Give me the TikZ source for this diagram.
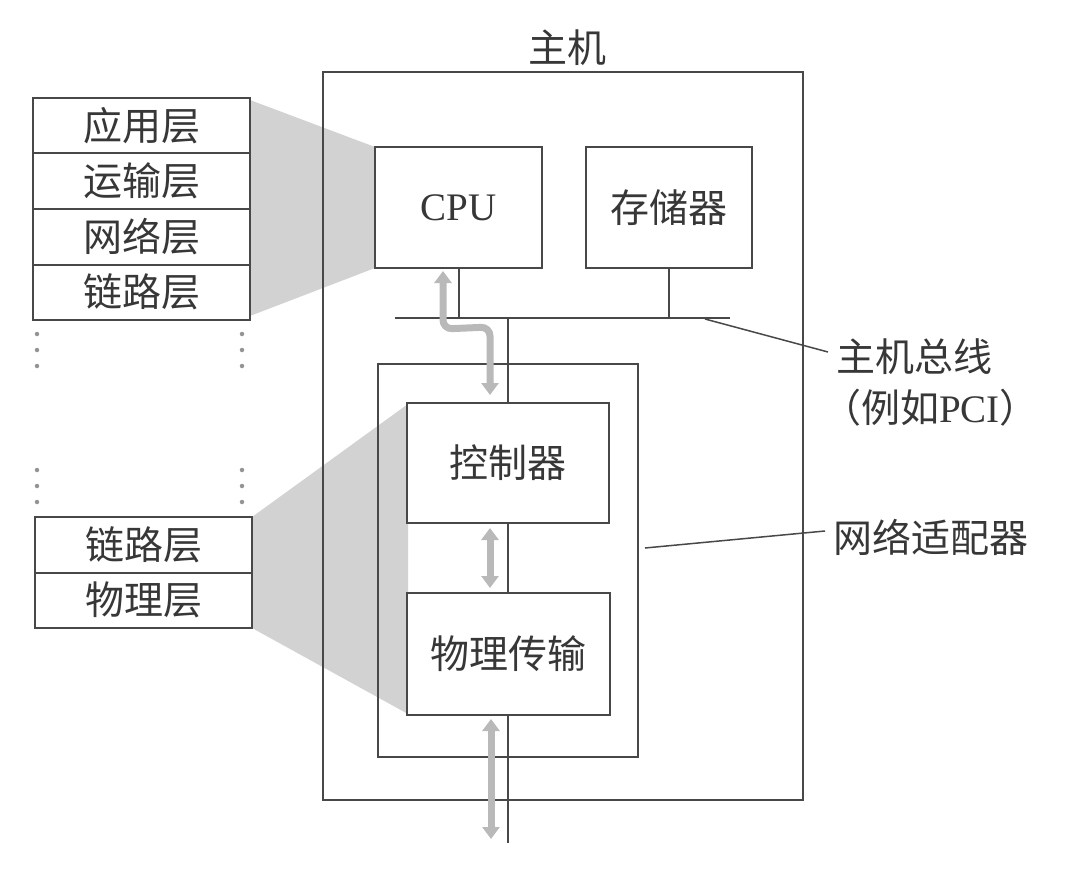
\documentclass[tikz,border=0pt]{standalone}
\usepackage{fontspec}
\setmainfont{Liberation Serif}
\newfontfamily\cjk{Noto Sans CJK SC}
\usetikzlibrary{arrows.meta,calc}
\definecolor{linec}{RGB}{72,72,72}
\definecolor{textc}{RGB}{55,55,55}
\definecolor{projc}{RGB}{210,210,210}
\definecolor{arrc}{RGB}{185,185,185}
\begin{document}
\begin{tikzpicture}[x=1pt,y=-1pt,
  lbl/.style={text=textc, font=\cjk\fontsize{39}{46}\selectfont, inner sep=0pt},
  box/.style={draw=linec, line width=2pt, fill=white, inner sep=0pt, text=textc,
              font=\cjk\fontsize{39}{46}\selectfont},
  frame/.style={draw=linec, line width=2pt, inner sep=0pt},
  layer/.style={box, minimum width=217pt, minimum height=55.5pt},
  wire/.style={draw=linec, line width=2pt},
  leader/.style={draw=linec, line width=1.5pt},
  dot/.style={fill=arrc!80!black, draw=none, circle, inner sep=0pt, minimum size=4.5pt},
  garrow/.style={draw=arrc, line width=7pt, {Triangle[width=17pt,length=12pt]}-{Triangle[width=17pt,length=12pt]}}
]
\useasboundingbox (0,0) rectangle (1082,880);

% projections (drawn first)
\fill[projc] (250,100) -- (375,147) -- (375,268) -- (250,316) -- cycle;
\fill[projc] (252,517) -- (408,404) -- (408,714) -- (252,628) -- cycle;

% host and adapter frames
\node[frame, minimum width=480pt, minimum height=728pt] (host) at (563,436) {};
\node[lbl, anchor=south] (hostl) at (567,66) {主机};
\node[frame, minimum width=260pt, minimum height=393pt] (adapter) at (508,560.5) {};

% inner boxes
\node[box, minimum width=167pt, minimum height=121pt, font=\fontsize{39}{46}\selectfont] (cpu) at (458.5,207.5) {\raisebox{-5pt}{CPU}};
\node[box, minimum width=166pt, minimum height=121pt] (mem) at (669,207.5) {\raisebox{-3pt}{存储器}};
\node[box, minimum width=202pt, minimum height=120pt] (ctrl) at (508,463) {\raisebox{-3pt}{控制器}};
\node[box, minimum width=203pt, minimum height=122pt] (phys) at (508,654) {\raisebox{-3pt}{物理传输}};

% bus
\coordinate (busL) at (395,318);
\coordinate (busR) at (730,318);
\draw[wire] (busL) -- (busR);
\draw[wire] (cpu.south) -- (cpu.south |- busL);
\draw[wire] (mem.south) -- (mem.south |- busL);
\draw[wire] (ctrl.north |- busL) -- (ctrl.north);
\draw[wire] (ctrl.south) -- (phys.north);
\coordinate (bot) at (508,843);
\draw[wire] (phys.south) -- (bot);

% gray arrows
\draw[garrow, rounded corners=9pt] ($(ctrl.north)+(-18,-7)$) -- ($(ctrl.north)+(-18,-75)$) -- ($(cpu.south)+(-15.5,60)$) -- ($(cpu.south)+(-15.5,2)$);
\draw[garrow] ($(ctrl.south)+(-18,4)$) -- ($(phys.north)+(-18,-4)$);
\draw[garrow] ($(phys.south)+(-17,3)$) -- ($(bot)+(-17,-4)$);

% left stacks
\node[layer] (app) at (141.5,125.75) {\raisebox{-3pt}{应用层}};
\node[layer] (trans) at (141.5,181.25) {\raisebox{-3pt}{运输层}};
\node[layer] (net) at (141.5,236.75) {\raisebox{-3pt}{网络层}};
\node[layer] (link) at (141.5,292.25) {\raisebox{-3pt}{链路层}};
\node[layer] (link2) at (143.5,544.75) {\raisebox{-3pt}{链路层}};
\node[layer] (phy2) at (143.5,600.25) {\raisebox{-3pt}{物理层}};

\foreach \y [count=\i] in {334,350,366} {
  \node[dot] (ul\i) at (37,\y) {};
  \node[dot] (ur\i) at (242,\y) {};
}
\foreach \y [count=\i] in {470,486,502} {
  \node[dot] (ll\i) at (37,\y) {};
  \node[dot] (lr\i) at (242,\y) {};
}

% right labels
\node[lbl, anchor=west] (busl) at (836,357) {主机总线};
\node[lbl, anchor=west] (busl2) at (822,408) {（例如\fontspec{Liberation Serif}PCI\cjk）};
\node[lbl, anchor=west] (adl) at (833,537) {网络适配器};

\coordinate (bp) at (705,319);
\draw[leader] (bp) -- ($(busl.west)+(-8,-5)$);
\coordinate (ap) at (645,548);
\draw[leader] (ap) -- ($(adl.west)+(-8,-6)$);
\end{tikzpicture}
\end{document}
